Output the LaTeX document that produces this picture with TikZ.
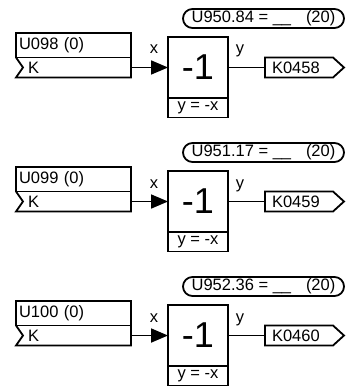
\documentclass[tikz,border=0pt]{standalone}
\usepackage{fontspec}
\setmainfont{Liberation Sans}
\usetikzlibrary{arrows.meta, positioning}

\begin{document}
\begin{tikzpicture}[x=1pt, y=-1pt,
  every node/.style={font=\fontsize{16.5}{19}\selectfont, outer sep=0pt},
  wire/.style={draw=black, line width=1.8pt},
  flow/.style={wire, -{Triangle[length=17pt, width=14pt]}},
  parm/.style={draw, line width=1.8pt, rounded corners=9.5pt, minimum width=161pt, minimum height=19pt, inner sep=0pt},
  parbox/.style={draw, line width=1.8pt, minimum height=24.5pt, text width=109pt, inner xsep=3pt, inner ysep=0pt, align=left},
  kbox/.style={minimum height=20pt, text width=91pt, inner xsep=12pt, inner ysep=0pt, align=left},
  fnbox/.style={draw, line width=1.8pt, minimum width=60pt, minimum height=61pt, inner sep=0pt, font=\fontsize{36}{40}\selectfont},
  eqbox/.style={draw, line width=1.8pt, minimum width=60pt, minimum height=19.5pt, inner sep=0pt},
  outbox/.style={minimum height=20pt, text width=54pt, inner xsep=7pt, inner ysep=0pt, align=left},
  pin/.style={anchor=base}
]
\useasboundingbox (0,0) rectangle (345,390);

\def\dy{134} % pt entre bloques

\node[parm] (p1) at (263.5,18.5) {U950.84 = \_\_\hspace{0.9em}(20)};
\node[parbox] (par1) at (73.5,45.25) {U098 (0)};
\node[kbox] (in1) at (73.5,67.5) {K};
\draw[wire] (in1.north east) -- (in1.south east) -- (in1.south west) -- ([xshift=7pt]in1.west) -- (in1.north west);
\node[fnbox] (neg1) at (198,67.5) {-1};
\node[eqbox, below=0pt of neg1] (eq1) {y = -x};
\node[outbox] (out1) at (299,67.5) {K0458};
\draw[wire] (out1.north west) -- (out1.north east) -- ([xshift=11pt]out1.east) -- (out1.south east) -- (out1.south west) -- cycle;
\node[pin] (x1) at (154,54) {x};
\node[pin] (y1) at (240,54) {y};
\draw[flow] (in1) -- (neg1);
\draw[wire] (neg1) -- (out1);

\node[parm] (p2) at (263.5,18.5+\dy) {U951.17 = \_\_\hspace{0.9em}(20)};
\node[parbox] (par2) at (73.5,45.25+\dy) {U099 (0)};
\node[kbox] (in2) at (73.5,67.5+\dy) {K};
\draw[wire] (in2.north east) -- (in2.south east) -- (in2.south west) -- ([xshift=7pt]in2.west) -- (in2.north west);
\node[fnbox] (neg2) at (198,67.5+\dy) {-1};
\node[eqbox, below=0pt of neg2] (eq2) {y = -x};
\node[outbox] (out2) at (299,67.5+\dy) {K0459};
\draw[wire] (out2.north west) -- (out2.north east) -- ([xshift=11pt]out2.east) -- (out2.south east) -- (out2.south west) -- cycle;
\node[pin] (x2) at (154,54+\dy) {x};
\node[pin] (y2) at (240,54+\dy) {y};
\draw[flow] (in2) -- (neg2);
\draw[wire] (neg2) -- (out2);

\node[parm] (p3) at (263.5,18.5+2*\dy) {U952.36 = \_\_\hspace{0.9em}(20)};
\node[parbox] (par3) at (73.5,45.25+2*\dy) {U100 (0)};
\node[kbox] (in3) at (73.5,67.5+2*\dy) {K};
\draw[wire] (in3.north east) -- (in3.south east) -- (in3.south west) -- ([xshift=7pt]in3.west) -- (in3.north west);
\node[fnbox] (neg3) at (198,67.5+2*\dy) {-1};
\node[eqbox, below=0pt of neg3] (eq3) {y = -x};
\node[outbox] (out3) at (299,67.5+2*\dy) {K0460};
\draw[wire] (out3.north west) -- (out3.north east) -- ([xshift=11pt]out3.east) -- (out3.south east) -- (out3.south west) -- cycle;
\node[pin] (x3) at (154,54+2*\dy) {x};
\node[pin] (y3) at (240,54+2*\dy) {y};
\draw[flow] (in3) -- (neg3);
\draw[wire] (neg3) -- (out3);

\end{tikzpicture}
\end{document}
